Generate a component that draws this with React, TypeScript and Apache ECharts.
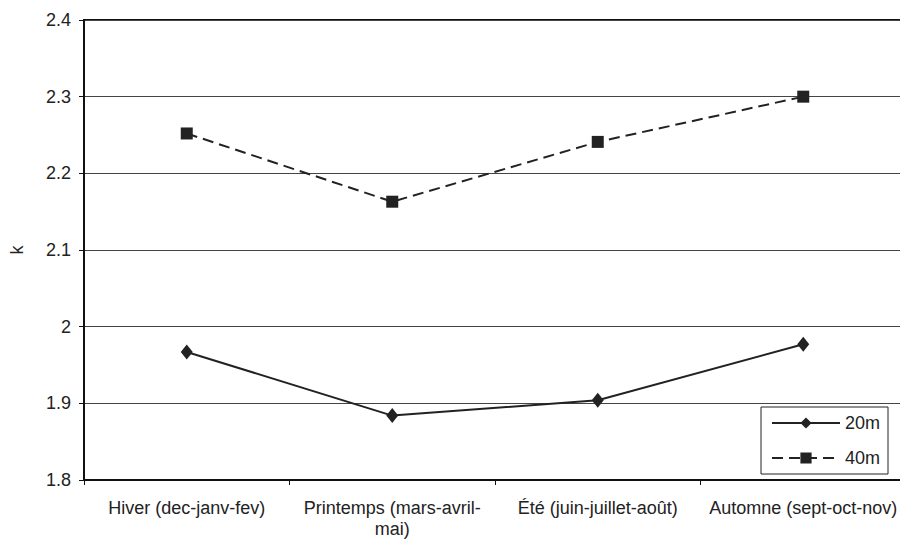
import React, { useEffect, useRef } from "react";
import * as echarts from "echarts";

const categories = [
  "Hiver (dec-janv-fev)",
  "Printemps (mars-avril-\nmai)",
  "Été (juin-juillet-août)",
  "Automne (sept-oct-nov)",
];
const series20m = [1.967, 1.884, 1.904, 1.977];
const series40m = [2.252, 2.163, 2.241, 2.3];
const yMin = 1.8;
const yMax = 2.4;
const yStep = 0.1;

const FONT = "'Liberation Sans', Arial, sans-serif";

export default function App() {
  const ref = useRef<HTMLDivElement>(null);
  useEffect(() => {
    if (!ref.current) return;
    const chart = echarts.init(ref.current, undefined, { renderer: "svg" });
    chart.setOption({
      animation: false,
      backgroundColor: "#ffffff",
      textStyle: { fontFamily: FONT },
      grid: {
        left: 78,
        right: 4,
        top: 20,
        bottom: 57,
        show: true,
        borderColor: "#111",
        borderWidth: 2,
        backgroundColor: "transparent",
      },
      legend: {
        orient: "vertical",
        left: 761,
        top: 407,
        padding: [7, 8, 7, 10],
        itemWidth: 68,
        itemHeight: 14,
        itemGap: 17,
        backgroundColor: "#ffffff",
        borderColor: "#222",
        borderWidth: 1,
        borderRadius: 0,
        textStyle: { fontSize: 18, color: "#222", fontFamily: FONT },
        data: ["20m", "40m"],
      },
      xAxis: {
        type: "category",
        data: categories,
        boundaryGap: true,
        axisLine: { show: true, lineStyle: { color: "#111", width: 2 } },
        axisTick: { show: true, length: 5, alignWithLabel: false, lineStyle: { color: "#111", width: 1 } },
        axisLabel: {
          fontSize: 18,
          color: "#222",
          fontFamily: FONT,
          margin: 17,
          lineHeight: 21,
          interval: 0,
        },
        splitLine: { show: false },
      },
      yAxis: {
        type: "value",
        min: yMin,
        max: yMax,
        interval: yStep,
        name: "k",
        nameLocation: "middle",
        nameGap: 58,
        nameRotate: 90,
        nameTextStyle: { fontSize: 18, color: "#222", fontFamily: FONT },
        axisLine: { show: true, lineStyle: { color: "#111", width: 2 } },
        axisTick: { show: true, length: 5, lineStyle: { color: "#111", width: 1 } },
        axisLabel: {
          fontSize: 18,
          color: "#222",
          fontFamily: FONT,
          margin: 13,
          formatter: (v: number) => {
            const r = Math.round(v * 10) / 10;
            return Number.isInteger(r) ? String(r) : r.toFixed(1);
          },
        },
        splitLine: { show: true, lineStyle: { color: "#444", width: 1 } },
      },
      series: [
        {
          name: "20m",
          type: "line",
          data: series20m,
          symbol: "diamond",
          symbolSize: [12, 15],
          itemStyle: { color: "#222" },
          lineStyle: { color: "#222", width: 2, type: "solid" },
        },
        {
          name: "40m",
          type: "line",
          data: series40m,
          symbol: "rect",
          symbolSize: 12,
          itemStyle: { color: "#222" },
          lineStyle: { color: "#222", width: 2, type: [11, 6] },
        },
      ],
    });
    return () => chart.dispose();
  }, []);
  return (
    <div
      style={{
        position: "fixed",
        left: 0,
        top: 0,
        width: 900,
        height: 539,
        overflow: "hidden",
        background: "#fff",
      }}
    >
      <div ref={ref} style={{ width: 910, height: 539 }} />
    </div>
  );
}
